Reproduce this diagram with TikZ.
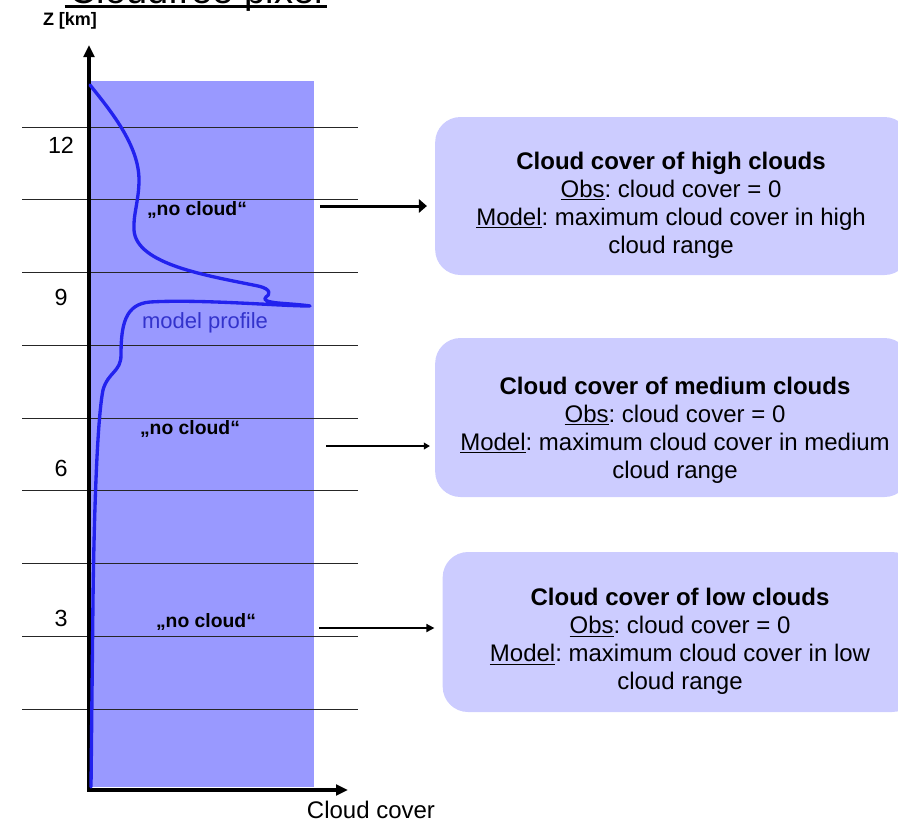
\documentclass[tikz,border=0pt]{standalone}
\usepackage{fontspec}
\setmainfont{Liberation Sans}
\usetikzlibrary{arrows.meta}
\definecolor{pixelfill}{RGB}{153,153,255}
\definecolor{boxfill}{RGB}{204,204,255}
\definecolor{profileblue}{RGB}{34,34,238}
\definecolor{labelblue}{RGB}{51,51,204}
\frenchspacing
\begin{document}
\begin{tikzpicture}[x=0.75pt,y=-0.75pt,
  gridline/.style={line width=0.75pt,black!85},
  axisline/.style={line width=3pt,line cap=rect,-{Triangle[length=9pt,width=8pt]}},
  infobox/.style={rounded corners=19pt,fill=boxfill,inner sep=0pt,minimum width=356pt},
  infotext/.style={align=center,inner sep=0pt,font=\fontsize{18}{21}\selectfont},
  ticklabel/.style={font=\fontsize{17.5}{20}\selectfont},
  nocloud/.style={font=\fontsize{14.5}{17}\selectfont\bfseries}]
\useasboundingbox (0,0) rectangle (898,822);
% title, cut at the top edge
\node[anchor=base,font=\fontsize{28.5}{34}\selectfont] (title) at (196,3.5) {Cloudfree pixel};
\draw[line width=1.9pt] ([yshift=-2.3pt]title.base west) -- ([yshift=-2.3pt]title.base east);
% pixel column and levels
\fill[pixelfill] (90,81) rectangle (314,787);
\foreach \i in {0,...,8}
  \draw[gridline] (22,{127+72.75*\i}) -- (358,{127+72.75*\i});
% axes
\coordinate (origin) at (89,790);
\coordinate (ztop) at (89,45);
\coordinate (ccend) at (348,790);
\draw[axisline] (origin) -- (ztop);
\draw[axisline] (origin) -- (ccend);
\node[font=\fontsize{13.5}{16}\selectfont\bfseries] (zlabel) at (70,21) {Z [km]};
\node[font=\fontsize{18}{21}\selectfont] (cclabel) at (371,810) {Cloud cover};
\node[ticklabel] (lab12) at (61,145) {12};
\node[ticklabel] (lab9) at (61,297.5) {9};
\node[ticklabel] (lab6) at (61,468) {6};
\node[ticklabel] (lab3) at (61,618) {3};
% model profile
\draw[profileblue,line width=2.5pt,line cap=round,line join=round]
  (90,85) .. controls (110,110) and (139,145) .. (139,180)
  .. controls (139,200) and (133,215) .. (134,230)
  .. controls (136,265) and (210,276) .. (258,286)
  .. controls (272,289) and (270,295) .. (266,297)
  .. controls (262,300) and (268,302) .. (278,303)
  .. controls (290,304) and (305,305) .. (310,306)
  .. controls (280,306) and (200,299) .. (150,302)
  .. controls (125,304) and (121,325) .. (121,355)
  .. controls (121,372) and (108,372) .. (103,390)
  .. controls (97,420) and (94,520) .. (93,600)
  -- (91,787);
\node[text=labelblue,font=\fontsize{16.5}{20}\selectfont] (modelprof) at (205,323) {model profile};
\node[nocloud] (nchigh) at (197,210) {„no cloud“};
\node[nocloud] (ncmed) at (190,429) {„no cloud“};
\node[nocloud] (nclow) at (206,622) {„no cloud“};
% boxes
\node[infobox,minimum height=118.5pt] (highbox) at (672.5,196) {};
\node[infotext] (hightext) at (671,205) {\textbf{Cloud cover of high clouds}\\
  \underline{Obs}: cloud cover = 0\\ \underline{Model}: maximum cloud cover in high\\ cloud range};
\node[infobox,minimum height=119.25pt] (medbox) at (672.5,417.5) {};
\node[infotext] (medtext) at (675,430) {\textbf{Cloud cover of medium clouds}\\
  \underline{Obs}: cloud cover = 0\\ \underline{Model}: maximum cloud cover in medium\\ cloud range};
\node[infobox,minimum height=120pt] (lowbox) at (680,632) {};
\node[infotext] (lowtext) at (680,641.5) {\textbf{Cloud cover of low clouds}\\
  \underline{Obs}: cloud cover = 0\\ \underline{Model}: maximum cloud cover in low\\ cloud range};
% arrows
\coordinate (hstart) at (320,206);
\coordinate (mstart) at (326,446);
\coordinate (lstart) at (319,628);
\draw[line width=2.25pt,shorten >=6pt,-{Triangle[length=6pt,width=10pt]}] (hstart) -- (hstart -| highbox.west);
\draw[line width=1.1pt,shorten >=3.75pt,-{Triangle[length=4.5pt,width=5pt]}] (mstart) -- (mstart -| medbox.west);
\draw[line width=1.3pt,shorten >=6pt,-{Triangle[length=6pt,width=6pt]}] (lstart) -- (lstart -| lowbox.west);
\end{tikzpicture}
\end{document}
